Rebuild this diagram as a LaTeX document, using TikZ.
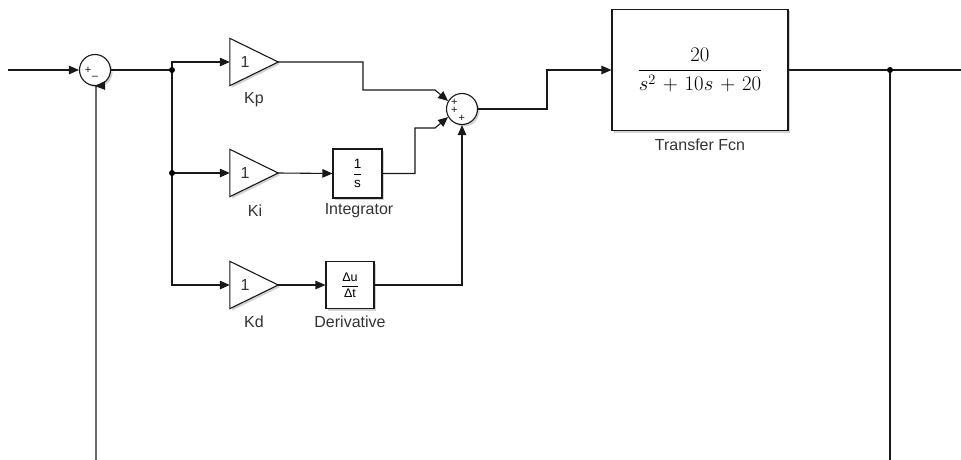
\documentclass[tikz,border=0pt]{standalone}
\usepackage{fontspec}
\usepackage{amsmath}
\setmainfont{Liberation Sans}
\usetikzlibrary{arrows.meta,shadows}
\begin{document}
\begin{tikzpicture}[x=1pt,y=-1pt,
  wire/.style={draw=black!90, line width=1.1pt},
  sig/.style={wire, -{Triangle[length=10pt,width=8.5pt]}},
  shad/.style={drop shadow={shadow xshift=2pt,shadow yshift=-2pt,opacity=.25,fill=black!70}},
  blockbox/.style={draw=black!90, line width=1.1pt, fill=white, shad, inner sep=0pt},
  sumblk/.style={circle, blockbox, minimum size=31pt},
  gainarea/.style={inner sep=0pt, minimum width=48pt, minimum height=47pt},
  lbl/.style={font=\fontsize{16}{18}\selectfont, text=black!80, inner sep=0pt},
  sgn/.style={font=\fontsize{11}{8}\selectfont, inner sep=0pt, text=black!90},
  dot/.style={circle, fill=black, inner sep=0pt, minimum size=6pt}
]
\useasboundingbox (0,0) rectangle (961,460);

% blocks
\node[sumblk] (sum1) at (95,70) {};
\node[gainarea] (kp) at (254,62) {};
\node[gainarea] (ki) at (254,173) {};
\node[gainarea] (kd) at (254,285) {};
\draw[blockbox] (kp.north west) -- (kp.east) -- (kp.south west) -- cycle;
\draw[blockbox] (ki.north west) -- (ki.east) -- (ki.south west) -- cycle;
\draw[blockbox] (kd.north west) -- (kd.east) -- (kd.south west) -- cycle;
\node[lbl] (kpv) at (245,62) {1};
\node[lbl] (kiv) at (245,173) {1};
\node[lbl] (kdv) at (245,285) {1};

\node[blockbox, minimum width=49pt, minimum height=49pt,
      font=\fontsize{13.5}{15}\selectfont] (int) at (357.5,173.5) {$\dfrac{\text{1}}{\text{s}}$};
\node[blockbox, minimum width=48pt, minimum height=47pt,
      font=\fontsize{12.5}{14}\selectfont] (der) at (350,285) {$\dfrac{\text{Δu}}{\text{Δt}}$};
\node[sumblk] (sum2) at (462,109) {};
\node[blockbox, minimum width=176pt, minimum height=121pt,
      font=\fontsize{20.5}{24}\selectfont] (tf) at (700,70) {$\dfrac{20}{s^2\mskip2mu+\mskip2mu10s\mskip2mu+\mskip2mu20}$};

% signs
\node[sgn] (s1a) at (88,70) {+};
\node[sgn] (s1b) at (95,78) {–};
\node[sgn, align=left] (s2) at (458,110) {+\\+\\\hspace{7.5pt}+};

% labels
\node[lbl] (kpl) at (254,100) {Kp};
\node[lbl] (kil) at (255,211) {Ki};
\node[lbl] (kdl) at (254,322) {Kd};
\node[lbl] (intl) at (359,211) {Integrator};
\node[lbl] (derl) at (350,322) {Derivative};
\node[lbl] (tfl) at (700,145) {Transfer Fcn};

% coordinates
\coordinate (in) at (8,70);
\coordinate (b1) at (172,70);
\coordinate (b2) at (172,173);
\coordinate (b3) at (890,70);
\coordinate (out) at (961,70);
\coordinate (fbr) at (890,460);
\coordinate (fbl) at (96,460);

% connectors
\draw[sig] (in) -- (sum1.west);
\draw[wire] (sum1.east) -- (b1);
\draw[sig] (b1) -- (172,62) -- (kp.west);
\draw[sig] (b1) -- (b2) -- (ki.west);
\draw[sig] (b2) -- (172,285) -- (kd.west);
\draw[sig] (ki.east) -- (int.west);
\draw[sig] (kd.east) -- (der.west);
\draw[sig] (kp.east) -- (363,62) -- (363,90) -- (435,90) -- (sum2.150);
\draw[sig] (int.east) -- (415,173.5) -- (415,128) -- (435,128) -- (sum2.210);
\draw[sig] (der.east) -- (462,285) -- (sum2.south);
\draw[sig] (sum2.east) -- (547,109) -- (547,70) -- (tf.west);
\draw[wire] (tf.east) -- (b3) -- (out);
\draw[wire] (b3) -- (fbr);
\draw[sig] (fbl) -- (96,86) -- (sum1.south);

\node[dot] (d1) at (b1) {};
\node[dot] (d2) at (b2) {};
\node[dot] (d3) at (b3) {};
\end{tikzpicture}
\end{document}
